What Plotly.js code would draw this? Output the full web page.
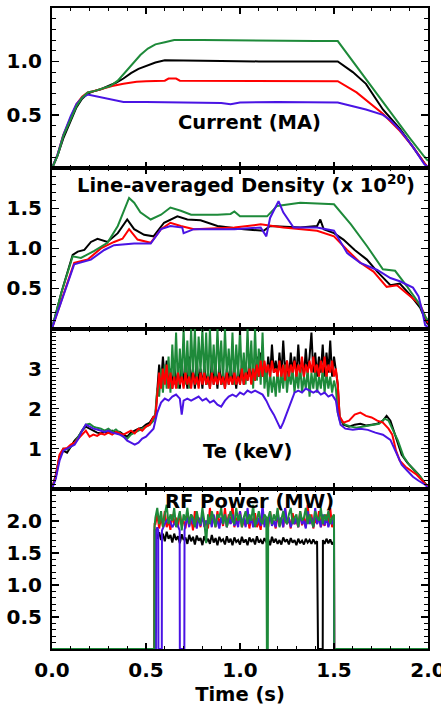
<!DOCTYPE html>
<html>
<head>
<meta charset="utf-8">
<script src="https://cdn.plot.ly/plotly-3.0.1.min.js"></script>
<style>html,body{margin:0;padding:0;background:#fff;}#chart{width:441px;height:706px;}</style>
</head>
<body>
<div id="chart"></div>
<script>
// ---------------- Panel titles / tick labels ----------------
const panelTitles = ['Current (MA)', 'Line-averaged Density (x 10<sup>20</sup>)', 'Te (keV)', 'RF Power (MW)'];
const xTitle = 'Time (s)';
const xTickVals = [0, 0.5, 1.0, 1.5, 2.0];
const xTickText = ['0.0', '0.5', '1.0', '1.5', '2.0'];
const y1TickVals = [0.5, 1.0]; const y1TickText = ['0.5', '1.0'];
const y2TickVals = [0.5, 1.0, 1.5]; const y2TickText = ['0.5', '1.0', '1.5'];
const y3TickVals = [1, 2, 3]; const y3TickText = ['1', '2', '3'];
const y4TickVals = [0.5, 1.0, 1.5, 2.0]; const y4TickText = ['0.5', '1.0', '1.5', '2.0'];

// ---------------- Current (MA) ----------------
const curGreenT = [0,0.03,0.06,0.10,0.13,0.16,0.19,0.22,0.26,0.31,0.35,0.39,0.43,0.47,0.51,0.55,0.60,0.65,0.80,1.00,1.20,1.40,1.52,1.60,1.70,1.80,1.90,1.98,2.00];
const curGreen  = [0,0.12,0.30,0.47,0.58,0.66,0.71,0.72,0.74,0.77,0.82,0.90,0.99,1.06,1.12,1.16,1.18,1.20,1.20,1.195,1.19,1.19,1.19,1.00,0.76,0.53,0.29,0.11,0.07];
const curBlackT = [0,0.03,0.06,0.10,0.13,0.16,0.19,0.22,0.26,0.30,0.34,0.38,0.42,0.46,0.50,0.55,0.60,0.70,0.90,1.10,1.30,1.52,1.60,1.67,1.76,1.85,1.96,2.00];
const curBlack  = [0,0.12,0.28,0.45,0.57,0.65,0.70,0.72,0.74,0.77,0.80,0.84,0.89,0.93,0.96,0.99,1.01,1.01,1.005,1.0,1.0,1.0,0.90,0.79,0.55,0.37,0.10,0.0];
const curRedT   = [0,0.03,0.06,0.10,0.13,0.16,0.19,0.22,0.26,0.32,0.38,0.45,0.50,0.60,0.62,0.66,0.68,1.00,1.30,1.52,1.62,1.76,1.85,1.92,1.98,2.00];
const curRed    = [0,0.13,0.31,0.48,0.60,0.67,0.71,0.72,0.74,0.77,0.79,0.81,0.815,0.82,0.84,0.84,0.82,0.82,0.815,0.815,0.71,0.51,0.35,0.20,0.05,0.01];
const curBlueT  = [0,0.03,0.06,0.10,0.13,0.16,0.19,0.22,0.26,0.32,0.38,0.50,0.80,0.90,0.95,1.00,1.20,1.52,1.60,1.67,1.76,1.80,1.85,1.92,1.98,2.00];
const curBlue   = [0,0.13,0.31,0.49,0.60,0.66,0.69,0.68,0.66,0.64,0.62,0.62,0.615,0.61,0.60,0.615,0.62,0.615,0.58,0.55,0.50,0.45,0.36,0.20,0.04,0.01];

// ---------------- Line-averaged density ----------------
const denGreenT = [0,0.05,0.11,0.154,0.225,0.295,0.35,0.41,0.437,0.47,0.525,0.58,0.63,0.685,0.74,0.88,0.95,0.97,1.0,1.144,1.197,1.32,1.50,1.59,1.675,1.76,1.825,1.887,1.95,1.985,2.0];
const denGreen  = [0,0.45,0.90,0.88,0.97,1.07,1.28,1.63,1.57,1.45,1.36,1.42,1.51,1.47,1.42,1.42,1.43,1.46,1.40,1.40,1.53,1.57,1.55,1.30,1.03,0.74,0.72,0.53,0.32,0.15,0.10];
const denBlackT = [0,0.05,0.11,0.137,0.172,0.207,0.242,0.295,0.35,0.40,0.437,0.49,0.54,0.596,0.667,0.72,0.79,0.88,1.02,1.126,1.16,1.32,1.41,1.427,1.445,1.50,1.55,1.61,1.675,1.73,1.80,1.85,1.905,1.958,1.99,2.0];
const denBlack  = [0,0.45,0.92,0.96,0.98,1.08,1.12,1.08,1.19,1.36,1.24,1.17,1.15,1.32,1.40,1.36,1.35,1.28,1.24,1.22,1.28,1.26,1.28,1.36,1.24,1.19,1.11,0.98,0.86,0.71,0.54,0.56,0.42,0.26,0.09,0.05];
const denRedT   = [0,0.06,0.118,0.19,0.26,0.33,0.375,0.41,0.455,0.525,0.58,0.63,0.685,0.755,0.97,1.11,1.23,1.41,1.50,1.57,1.64,1.71,1.78,1.835,1.905,1.958,2.0];
const denRed    = [0,0.42,0.82,0.86,1.00,1.08,1.12,1.24,1.11,1.07,1.24,1.32,1.28,1.24,1.26,1.30,1.26,1.22,1.15,0.98,0.82,0.71,0.52,0.54,0.40,0.30,0.07];
const denBlueT  = [0,0.06,0.118,0.207,0.278,0.33,0.437,0.525,0.58,0.63,0.693,0.70,0.755,0.97,1.11,1.14,1.16,1.205,1.23,1.285,1.41,1.50,1.57,1.64,1.73,1.80,1.85,1.92,1.95,1.97,1.985,2.0];
const denBlue   = [0,0.41,0.80,0.86,0.98,1.04,1.06,1.06,1.24,1.28,1.26,1.19,1.24,1.24,1.26,1.15,1.38,1.59,1.45,1.26,1.26,1.22,0.94,0.82,0.73,0.63,0.59,0.51,0.40,0.21,0.04,0.02];

// ---------------- Te (keV) ----------------
const tePreT      = [0,0.02,0.04,0.06,0.08,0.10,0.12,0.14,0.16,0.18,0.20,0.22,0.24,0.26,0.28,0.30,0.32,0.34,0.36,0.38,0.40,0.42,0.44,0.46,0.48,0.50,0.52,0.54];
const teGreenPre  = [0,0.30,0.80,1.00,0.98,1.05,1.15,1.30,1.45,1.60,1.62,1.55,1.52,1.50,1.45,1.50,1.42,1.48,1.40,1.30,1.25,1.35,1.40,1.45,1.50,1.55,1.60,1.70];
const teRedPre    = [0,0.30,0.85,1.00,1.02,1.10,1.15,1.25,1.35,1.45,1.30,1.35,1.32,1.38,1.35,1.40,1.35,1.42,1.38,1.35,1.40,1.45,1.38,1.50,1.45,1.55,1.60,1.80];
const teBlackPre  = [0,0.35,0.80,0.95,0.90,1.05,1.20,1.30,1.45,1.55,1.50,1.45,1.40,1.38,1.42,1.40,1.45,1.40,1.42,1.35,1.30,1.40,1.45,1.50,1.52,1.60,1.65,1.80];
const teBluePre   = [0,0.25,0.70,0.95,1.00,1.05,1.10,1.25,1.45,1.60,1.55,1.50,1.48,1.45,1.42,1.45,1.40,1.38,1.35,1.30,1.20,1.15,1.10,1.15,1.25,1.30,1.40,1.50];
// heated phase, sampled every 0.01 s from 0.55 s
const teHeatStart = 0.55, teHeatStep = 0.01;
const teGreenHeat = [1.9,2.5,2.3,3.0,2.4,3.1,2.5,3.3,2.4,3.6,2.6,3.9,2.5,3.5,2.7,4.0,2.6,3.7,2.5,4.0,
  2.8,4.0,2.6,3.8,2.9,4.0,2.7,3.9,2.6,4.0,2.8,3.6,2.7,4.0,2.9,3.7,2.6,4.0,2.8,3.5,
  2.7,3.9,2.6,3.6,2.8,4.0,2.7,3.4,2.6,4.0,2.8,3.7,2.5,4.0,2.7,3.5,2.6,3.9,2.5,3.0,
  2.3,2.9,2.4,2.8,2.3,3.0,2.4,2.9,2.5,3.1,2.4,2.9,2.6,3.0,2.4,2.9,2.5,3.1,2.4,2.8,
  2.5,3.0,2.3,2.9,2.5,3.0,2.4,2.8,2.5,3.0,2.4,2.9,2.5,2.8,2.4,2.7,2.5,1.9];
const teRedHeat = [1.8,2.4,2.9,2.5,3.0,2.6,3.1,2.5,2.9,2.5,2.8,2.5,2.9,2.6,2.8,2.5,2.9,2.6,2.8,2.5,
  2.9,2.6,2.8,2.5,2.9,2.6,2.9,2.6,2.8,2.5,2.9,2.6,2.8,2.6,2.9,2.6,2.8,2.5,2.9,2.6,
  2.8,2.6,2.9,2.6,2.8,2.6,3.0,2.6,2.9,2.7,3.0,2.6,3.0,2.7,3.1,2.8,3.2,2.8,3.2,2.9,
  3.1,2.8,3.2,2.9,3.0,2.8,3.2,2.8,3.1,2.7,3.2,2.8,3.1,2.9,3.2,2.8,3.1,2.9,3.3,2.8,
  3.1,2.9,3.2,2.9,3.3,2.9,3.1,2.8,3.2,2.9,3.3,2.8,3.1,2.9,3.2,2.8,3.0,2.6];
const teBlackHeat = [1.8,2.6,3.1,2.6,3.3,2.7,3.2,2.6,3.0,2.5,3.1,2.6,2.9,2.5,3.2,2.6,3.0,2.5,3.3,2.6,
  3.0,2.5,3.2,2.6,3.0,2.5,3.1,2.6,2.9,2.5,3.2,2.6,3.0,2.5,3.1,2.6,2.9,2.5,3.0,2.6,
  3.2,2.6,2.9,2.5,3.0,2.6,3.1,2.6,3.0,2.7,3.2,2.7,3.0,2.7,3.3,2.8,3.4,2.8,3.1,2.7,
  3.3,2.8,3.6,2.9,3.2,2.8,3.4,2.8,3.7,2.9,3.2,2.7,3.4,2.9,3.3,2.8,3.6,2.9,3.2,2.8,
  3.5,2.9,3.3,3.9,2.9,3.4,2.8,3.3,2.9,3.6,2.8,3.4,2.9,3.7,2.8,3.3,2.9,2.6];
const teBlueHeatT = [0.56,0.58,0.60,0.62,0.64,0.66,0.68,0.69,0.70,0.72,0.74,0.76,0.78,0.80,0.82,0.84,0.86,0.88,0.90,0.92,0.94,0.96,0.98,1.00,1.02,1.04,1.06,1.08,1.10,1.12,1.14,1.16,1.18,1.20,1.215,1.23,1.25,1.27,1.29,1.31,1.33,1.35,1.37,1.39,1.41,1.43,1.45,1.47,1.49,1.51,1.52];
const teBlueHeat  = [1.90,2.15,2.25,2.20,2.30,2.35,2.25,1.85,2.20,2.25,2.20,2.25,2.30,2.20,2.25,2.15,2.20,2.10,2.05,2.20,2.30,2.35,2.30,2.40,2.35,2.45,2.40,2.45,2.40,2.35,2.20,2.00,1.85,1.65,1.50,1.65,1.90,2.20,2.40,2.45,2.40,2.50,2.45,2.40,2.45,2.35,2.40,2.30,2.35,2.20,1.90];
const teGreenPostT = [1.53,1.56,1.59,1.62,1.65,1.68,1.71,1.74,1.77,1.79,1.81,1.84,1.87,1.90,1.93,1.96,1.99,2.00];
const teGreenPost  = [1.72,1.60,1.55,1.52,1.55,1.58,1.60,1.62,1.75,1.70,1.50,1.20,0.80,0.60,0.45,0.30,0.10,0.05];
const teRedPostT   = [1.53,1.55,1.58,1.61,1.64,1.67,1.70,1.73,1.76,1.79,1.81,1.83,1.85,1.88,1.91,1.94,1.97,2.00];
const teRedPost    = [1.80,1.65,1.70,1.85,1.90,1.82,1.78,1.70,1.65,1.50,1.35,0.95,0.70,0.55,0.45,0.35,0.20,0.05];
const teBlackPostT = [1.53,1.55,1.58,1.61,1.64,1.67,1.70,1.73,1.76,1.78,1.80,1.82,1.84,1.86,1.89,1.92,1.95,1.98,2.00];
const teBlackPost  = [1.80,1.60,1.55,1.60,1.62,1.58,1.60,1.62,1.70,1.82,1.70,1.40,1.10,0.85,0.65,0.50,0.35,0.15,0.05];
const teBluePostT  = [1.535,1.56,1.60,1.64,1.68,1.72,1.76,1.80,1.83,1.86,1.89,1.92,1.95,1.985,2.00];
const teBluePost   = [1.60,1.50,1.47,1.50,1.47,1.40,1.35,1.22,0.90,0.60,0.45,0.30,0.20,0.10,0.03];

// ---------------- RF power (MW) ----------------
const rfGreenOnT = [0, 0.544, 0.545];
const rfGreenOn  = [0, 0, 1.90];
const rfGreenA   = [2.05,2.2,1.95,2.15,1.9,2.1,2.25,1.95,2.1,2.0,2.2,1.9,2.05,2.15,1.85,2.1,2.0,2.2,1.95,2.1,
  2.05,1.9,2.15,2.0,1.95,2.2,2.0,1.65,2.1,1.95,2.15,2.0,1.9,2.1,2.05,2.2,1.95,2.1,1.9,2.05,
  2.15,2.0,1.95,2.2,2.0,2.1,1.9,2.05,2.15,1.95,2.1,2.0,2.25,1.9,2.05,2.15,2.0,1.95,2.1,2.05]; // from 0.55, every 0.01 s
const rfGreenGapT = [1.143, 1.148];
const rfGreenGap  = [0, 0];
const rfGreenB   = [2.05,2.15,1.95,2.1,2.0,2.2,1.9,2.05,2.15,2.0,1.95,2.1,2.2,1.95,2.05,2.1,1.9,2.15,2.0,2.05,
  2.2,1.95,2.1,2.0,1.9,2.15,2.05,2.0,2.2,1.95,2.1,2.0,2.15,1.95,2.05,2.1]; // from 1.15, every 0.01 s
const rfGreenOffT = [1.501, 2.0];
const rfGreenOff  = [0, 0];

const rfBlackOnT = [0, 0.545, 0.546];
const rfBlackOn  = [0, 0, 1.85];
const rfBlackA   = [1.85,1.72,1.82,1.7,1.8,1.68,1.83,1.72,1.78,1.66,
  1.8,1.7,1.76,1.65,1.79,1.7,1.74,1.64,1.78,1.68,
  1.75,1.63,1.77,1.69,1.73,1.62,1.76,1.67,1.72,1.64,
  1.78,1.66,1.73,1.62,1.75,1.68,1.71,1.63,1.76,1.66,
  1.72,1.62,1.74,1.67,1.7,1.63,1.75,1.66,1.71,1.62,
  1.74,1.67,1.72,1.63,1.76,1.66,1.7,1.64,1.73,1.67,
  1.71,1.62,1.75,1.66,1.72,1.64,1.7,1.63,1.74,1.67,
  1.71,1.63,1.73,1.66,1.7,1.62,1.72,1.65,1.69,1.63,
  1.72,1.66,1.7,1.64,1.71,1.65,1.68]; // from 0.55, every 0.01 s
const rfBlackGapT = [1.415, 1.44];
const rfBlackGap  = [0, 0];
const rfBlackBT = [1.441,1.45,1.46,1.47,1.48,1.49,1.50,1.501,2.0];
const rfBlackB  = [1.70,1.64,1.72,1.65,1.71,1.63,1.68,0,0];

const rfRedOnT = [0, 0.545, 0.546];
const rfRedOn  = [0, 0, 1.95];
const rfRedA   = [1.95,2.1,1.88,2.05,1.92,2.15,1.9,2.0,1.86,2.1,
  1.95,2.05,1.9,2.12,1.94,2.0,1.88,2.1,1.92,2.05,
  1.85,2.15,1.95,2.05,1.9,2.1,1.95,2.0,1.88,2.2,
  1.95,2.05,1.9,2.15,1.95,2.05,1.92,2.2,1.9,2.1,
  1.95,2.25,1.9,2.05,1.95,2.15,1.9,2.0,1.93,2.1,
  1.88,2.05,1.95,2.12,1.9,2.0,1.86,2.1,1.94,2.05,
  1.9,2.15,1.95,2.0,1.88,2.1,1.92,2.05,1.9,2.2,
  1.95,2.05,1.88,2.12,1.95,2.0,1.9,2.15,1.93,2.05,
  1.9,2.25,1.95,2.1,1.88,2.05,1.95,2.15,1.9,2.0,
  1.92,2.1,1.95,2.2,1.9,2.05]; // from 0.55, every 0.01 s
const rfRedOffT = [1.501, 2.0];
const rfRedOff  = [0, 0];

const rfBlueT = [0,0.553,0.554,0.56,0.565,0.566,0.584,0.585,0.60,0.62,0.64,0.66,0.679,0.68,0.704,0.705];
const rfBlue  = [0,0,1.85,1.9,1.85,0,0,1.85,1.95,2.05,1.9,2.0,1.85,0,0,1.85];
const rfBlueB = [1.95,2.05,1.9,2.1,1.95,2.0,1.88,2.05,1.92,2.1,
  1.9,2.0,1.95,2.05,1.9,2.1,1.95,2.0,1.88,2.05,
  1.95,2.1,1.9,2.05,1.95,2.1,1.92,2.0,1.9,2.15,
  1.95,2.05,1.9,2.2,1.95,2.05,1.9,2.0,1.95,2.05,
  1.92,2.25,1.9,2.05,1.95,2.1,1.92,2.0,1.9,2.15,
  1.95,2.05,1.9,2.2,1.95,2.05,1.9,2.0,1.95,2.05,
  1.9,2.1,1.95,2.0,1.88,2.15,1.95,2.05,1.9,2.2,
  1.95,2.05,1.9,2.1,1.93,2.05,1.9,2.0,1.95,2.05]; // from 0.71, every 0.01 s
const rfBlueOffT = [1.501, 2.0];
const rfBlueOff  = [0, 0];

// ---------------- helpers ----------------
function grid(t0, dt, n) { const a = []; for (let i = 0; i < n; i++) a.push(+(t0 + i * dt).toFixed(4)); return a; }
function cat() { return [].concat.apply([], arguments); }

const C = { black: '#000000', red: '#ff0000', blue: '#4a14e4', green: '#1e8a3a' };
function tr(x, y, color, xa, ya) {
  return { x: x, y: y, type: 'scatter', mode: 'lines', line: { color: color, width: 2 }, xaxis: xa, yaxis: ya, showlegend: false, hoverinfo: 'skip' };
}

const data = [
  // Current
  tr(curBlackT, curBlack, C.black, 'x', 'y'),
  tr(curRedT, curRed, C.red, 'x', 'y'),
  tr(curBlueT, curBlue, C.blue, 'x', 'y'),
  tr(curGreenT, curGreen, C.green, 'x', 'y'),
  // Density
  tr(denBlackT, denBlack, C.black, 'x2', 'y2'),
  tr(denRedT, denRed, C.red, 'x2', 'y2'),
  tr(denGreenT, denGreen, C.green, 'x2', 'y2'),
  tr(denBlueT, denBlue, C.blue, 'x2', 'y2'),
  // Te
  tr(cat(tePreT, grid(teHeatStart, teHeatStep, teBlackHeat.length), teBlackPostT), cat(teBlackPre, teBlackHeat, teBlackPost), C.black, 'x3', 'y3'),
  tr(cat(tePreT, grid(teHeatStart, teHeatStep, teGreenHeat.length), teGreenPostT), cat(teGreenPre, teGreenHeat, teGreenPost), C.green, 'x3', 'y3'),
  tr(cat(tePreT, grid(teHeatStart, teHeatStep, teRedHeat.length), teRedPostT), cat(teRedPre, teRedHeat, teRedPost), C.red, 'x3', 'y3'),
  tr(cat(tePreT, teBlueHeatT, teBluePostT), cat(teBluePre, teBlueHeat, teBluePost), C.blue, 'x3', 'y3'),
  // RF
  tr(cat(rfBlackOnT, grid(0.55, 0.01, rfBlackA.length), rfBlackGapT, rfBlackBT), cat(rfBlackOn, rfBlackA, rfBlackGap, rfBlackB), C.black, 'x4', 'y4'),
  tr(cat(rfRedOnT, grid(0.55, 0.01, rfRedA.length), rfRedOffT), cat(rfRedOn, rfRedA, rfRedOff), C.red, 'x4', 'y4'),
  tr(cat(rfBlueT, grid(0.71, 0.01, rfBlueB.length), rfBlueOffT), cat(rfBlue, rfBlueB, rfBlueOff), C.blue, 'x4', 'y4'),
  tr(cat(rfGreenOnT, grid(0.55, 0.01, rfGreenA.length), rfGreenGapT, grid(1.15, 0.01, rfGreenB.length), rfGreenOffT), cat(rfGreenOn, rfGreenA, rfGreenGap, rfGreenB, rfGreenOff), C.green, 'x4', 'y4')
];

const FONT = { family: 'DejaVu Sans', size: 20, weight: 'bold', color: '#000' };
const ANNOT_FONT = { family: 'DejaVu Sans', size: 19.5, weight: 'bold', color: '#000' };

function xAxis(anchor, showLabels) {
  return {
    anchor: anchor, domain: [0, 1], range: [0, 2], fixedrange: true,
    tickmode: 'array', tickvals: xTickVals, ticktext: xTickText, showticklabels: showLabels,
    ticklabeloverflow: 'allow',
    ticks: 'inside', ticklen: 6, tickwidth: 1.5, tickcolor: '#000',
    minor: { ticks: 'inside', ticklen: 3, tickwidth: 1, tickcolor: '#000', tickmode: 'linear', tick0: 0, dtick: 0.1 },
    showline: true, linecolor: '#000', linewidth: 2, mirror: 'allticks',
    showgrid: false, zeroline: false, tickfont: FONT, ticklabelstandoff: 2
  };
}
function yAxis(anchor, domain, range, vals, text) {
  return {
    anchor: anchor, domain: domain, range: range, fixedrange: true,
    tickmode: 'array', tickvals: vals, ticktext: text,
    ticklabeloverflow: 'allow',
    ticks: 'inside', ticklen: 7, tickwidth: 1.5, tickcolor: '#000',
    minor: { ticks: 'inside', ticklen: 4, tickwidth: 1, tickcolor: '#000', tickmode: 'linear', tick0: 0, dtick: 0.1 },
    showline: true, linecolor: '#000', linewidth: 2, mirror: 'allticks',
    showgrid: false, zeroline: false, tickfont: FONT, ticklabelstandoff: 4
  };
}

const xa4 = xAxis('y4', true);
xa4.title = { text: xTitle, font: ANNOT_FONT, standoff: 9 };

const layout = {
  width: 441, height: 706,
  margin: { l: 52, r: 13, t: 8, b: 57, pad: 0 },
  paper_bgcolor: '#fff', plot_bgcolor: '#fff',
  showlegend: false,
  xaxis: xAxis('y', false),
  xaxis2: xAxis('y2', false),
  xaxis3: xAxis('y3', false),
  xaxis4: xa4,
  yaxis: yAxis('x', [0.75, 1], [0, 1.5], y1TickVals, y1TickText),
  yaxis2: yAxis('x2', [0.5, 0.75], [0, 2.0], y2TickVals, y2TickText),
  yaxis3: yAxis('x3', [0.25, 0.5], [0, 4.0], y3TickVals, y3TickText),
  yaxis4: yAxis('x4', [0, 0.25], [0, 2.5], y4TickVals, y4TickText),
  annotations: [
    { text: panelTitles[0], x: 1.05, y: 0.43, xref: 'x', yref: 'y', showarrow: false, xanchor: 'center', yanchor: 'middle', font: ANNOT_FONT },
    { text: panelTitles[1], x: 1.03, y: 1.80, xref: 'x2', yref: 'y2', showarrow: false, xanchor: 'center', yanchor: 'middle', font: ANNOT_FONT },
    { text: panelTitles[2], x: 1.04, y: 0.93, xref: 'x3', yref: 'y3', showarrow: false, xanchor: 'center', yanchor: 'middle', font: ANNOT_FONT },
    { text: panelTitles[3], x: 1.05, y: 2.30, xref: 'x4', yref: 'y4', showarrow: false, xanchor: 'center', yanchor: 'middle', font: ANNOT_FONT }
  ]
};

Plotly.newPlot('chart', data, layout, { staticPlot: true, displayModeBar: false });
</script>
</body>
</html>
